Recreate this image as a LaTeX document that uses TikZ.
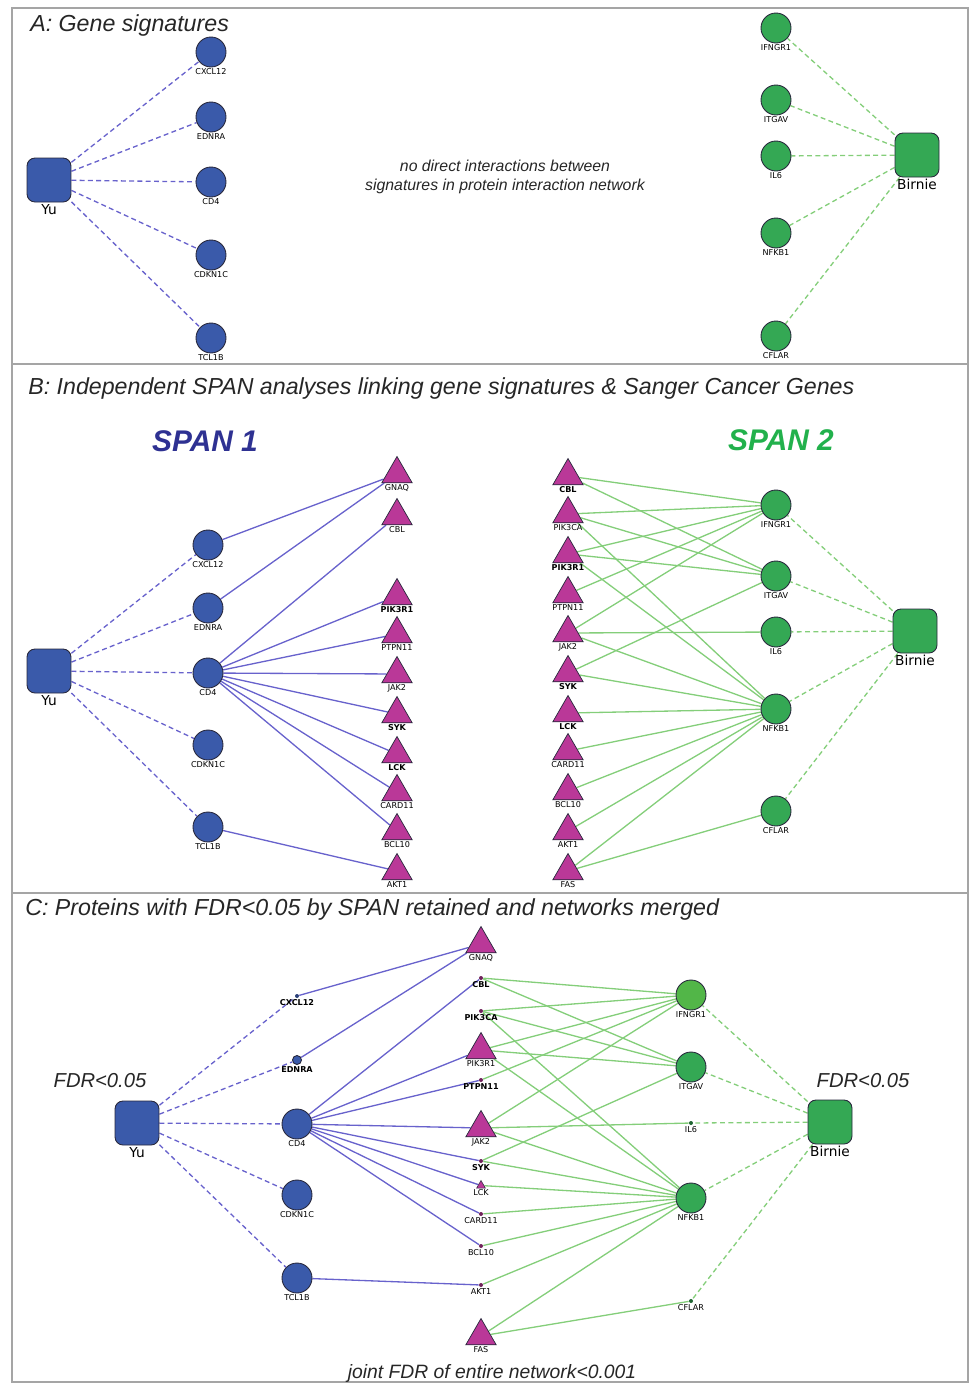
\documentclass[tikz,border=0pt]{standalone}
\usepackage{fontspec}
\setmainfont{Liberation Sans}
\newfontfamily\dejavu{DejaVu Sans}
\usetikzlibrary{shapes.geometric,backgrounds}

\definecolor{nodeblue}{RGB}{58,90,170}
\definecolor{nodegreen}{RGB}{52,168,84}
\definecolor{lightgreen}{RGB}{82,182,72}
\definecolor{cancer}{RGB}{186,56,152}
\definecolor{blueedge}{RGB}{104,98,204}
\definecolor{greenedge}{RGB}{132,206,122}
\definecolor{spanblue}{RGB}{46,49,146}
\definecolor{spangreen}{RGB}{34,177,76}
\definecolor{framegray}{RGB}{165,165,165}
\definecolor{outline}{RGB}{40,40,60}

\tikzset{
  lab/.style={font=\dejavu\fontsize{4.6}{5}\selectfont, inner sep=0.6pt},
  boldlab/.style={font=\dejavu\bfseries\fontsize{4.6}{5}\selectfont, inner sep=0.6pt},
  siglab/.style={font=\dejavu\fontsize{7.8}{8}\selectfont, inner sep=1pt},
  gene/.style={circle, draw=outline, line width=0.5pt, minimum size=0.6cm, inner sep=0pt},
  bluegene/.style={gene, fill=nodeblue},
  greengene/.style={gene, fill=nodegreen},
  signature/.style={rectangle, rounded corners=0.16cm, draw=outline, line width=0.5pt, minimum size=0.88cm, inner sep=0pt},
  sanger/.style={regular polygon, regular polygon sides=3, draw=outline, line width=0.4pt, fill=cancer, minimum size=0.7cm, inner sep=0pt},
  tinydot/.style={circle, fill=outline, minimum size=0.08cm, inner sep=0pt},
  blueline/.style={draw=blueedge, line width=0.75pt},
  bluedash/.style={blueline, dash pattern=on 2.8pt off 1.9pt},
  greenline/.style={draw=greenedge, line width=0.75pt},
  greendash/.style={greenline, dash pattern=on 2.8pt off 1.9pt},
  heading/.style={font=\itshape\fontsize{13.2}{15}\selectfont, anchor=west, inner sep=0pt, text=black!85},
  spanhead/.style={font=\bfseries\itshape\fontsize{17}{18}\selectfont, inner sep=0pt},
  remark/.style={font=\itshape\fontsize{11.5}{13}\selectfont, inner sep=0pt, text=black!85},
}

\begin{document}
\begin{tikzpicture}[x=0.02cm, y=-0.02cm]
\useasboundingbox (0,0) rectangle (970,1384);
% frame and panel rules
\draw[framegray, line width=1.2pt] (12,8) rectangle (968,1382);
\draw[framegray, line width=1.2pt] (12,364) -- (968,364);
\draw[framegray, line width=1.2pt] (12,893) -- (968,893);

%%%%% A: gene signatures
\node[heading] (atitle) at (30,25) {A: Gene signatures};
\node[signature, fill=nodeblue, label={[siglab]below:Yu}] (aYu) at (49,180) {};
\foreach \g/\y in {CXCL12/52, EDNRA/117, CD4/182, CDKN1C/255, TCL1B/338}
  \node[bluegene, label={[lab]below:\g}] (a\g) at (211,\y) {};
\node[signature, fill=nodegreen, label={[siglab]below:Birnie}] (aBirnie) at (917,155) {};
\foreach \g/\y in {IFNGR1/28, ITGAV/100, IL6/156, NFKB1/233, CFLAR/336}
  \node[greengene, label={[lab]below:\g}] (a\g) at (776,\y) {};
\node[font=\itshape\fontsize{9}{10.8}\selectfont, align=center, text=black!85] (anote) at (505,177)
  {no direct interactions between\\signatures in protein interaction network};

\begin{scope}[on background layer]
\foreach \g in {CXCL12,EDNRA,CD4,CDKN1C,TCL1B}
  \draw[bluedash] (aYu) -- (a\g);
\foreach \g in {IFNGR1,ITGAV,IL6,NFKB1,CFLAR}
  \draw[greendash] (aBirnie) -- (a\g);
\end{scope}

%%%%% B: two SPAN analyses
\node[heading] (btitle) at (28,388) {B: Independent SPAN analyses linking gene signatures \& Sanger Cancer Genes};
\node[spanhead, text=spanblue] (span1) at (205,441) {SPAN 1};
\node[spanhead, text=spangreen] (span2) at (781,440) {SPAN 2};

\node[signature, fill=nodeblue, label={[siglab]below:Yu}] (bYu) at (49,671) {};
\foreach \g/\y in {CXCL12/545, EDNRA/608, CD4/673, CDKN1C/745, TCL1B/827}
  \node[bluegene, label={[lab]below:\g}] (b\g) at (208,\y) {};
% SPAN 1 cancer genes
\foreach \g/\y/\s in {GNAQ/474/lab, CBL/516/lab, PIK3R1/596/boldlab, PTPN11/634/lab, JAK2/674/lab,
                      SYK/714/boldlab, LCK/754/boldlab, CARD11/792/lab, BCL10/831/lab, AKT1/871/lab}
  \node[sanger, label={[\s]below:\g}] (p\g) at (397,\y) {};
% SPAN 2 cancer genes
\foreach \g/\y/\s in {CBL/476/boldlab, PIK3CA/514/lab, PIK3R1/554/boldlab, PTPN11/594/lab, JAK2/633/lab,
                      SYK/673/boldlab, LCK/713/boldlab, CARD11/751/lab, BCL10/791/lab, AKT1/831/lab, FAS/871/lab}
  \node[sanger, label={[\s]below:\g}] (q\g) at (568,\y) {};

\node[signature, fill=nodegreen, label={[siglab]below:Birnie}] (bBirnie) at (915,631) {};
\foreach \g/\y in {IFNGR1/505, ITGAV/576, IL6/632, NFKB1/709, CFLAR/811}
  \node[greengene, label={[lab]below:\g}] (b\g) at (776,\y) {};

\begin{scope}[on background layer]
\foreach \g in {CXCL12,EDNRA,CD4,CDKN1C,TCL1B}
  \draw[bluedash] (bYu) -- (b\g);
\foreach \g in {IFNGR1,ITGAV,IL6,NFKB1,CFLAR}
  \draw[greendash] (bBirnie) -- (b\g);
\draw[blueline] (bCXCL12) -- (pGNAQ);
\draw[blueline] (bEDNRA) -- (pGNAQ);
\foreach \g in {CBL,PIK3R1,PTPN11,JAK2,SYK,LCK,CARD11,BCL10}
  \draw[blueline] (bCD4) -- (p\g);
\draw[blueline] (bTCL1B) -- (pAKT1);
\foreach \g/\h in {CBL/IFNGR1, CBL/ITGAV, PIK3CA/IFNGR1, PIK3CA/ITGAV, PIK3CA/NFKB1,
                   PIK3R1/IFNGR1, PIK3R1/ITGAV, PIK3R1/NFKB1, PTPN11/IFNGR1,
                   JAK2/IFNGR1, JAK2/IL6, JAK2/NFKB1, SYK/ITGAV, SYK/NFKB1,
                   LCK/NFKB1, CARD11/NFKB1, BCL10/NFKB1, AKT1/NFKB1, FAS/NFKB1, FAS/CFLAR}
  \draw[greenline] (q\g) -- (b\h);
\end{scope}

%%%%% C: merged network
\node[heading] (ctitle) at (25,909) {C: Proteins with FDR<0.05 by SPAN retained and networks merged};
\node[remark] (yufdr) at (100,1081) {FDR<0.05};
\node[remark] (birniefdr) at (863,1081) {FDR<0.05};
\node[remark, font=\itshape\fontsize{11}{13}\selectfont] (joint) at (492,1373) {joint FDR of entire network<0.001};

\node[signature, fill=nodeblue, label={[siglab]below:Yu}] (cYu) at (137,1123) {};
\node[tinydot, fill=nodeblue!70!black, label={[boldlab]below:CXCL12}] (cCXCL12) at (297,996) {};
\node[gene, fill=nodeblue, minimum size=0.18cm, label={[boldlab]below:EDNRA}] (cEDNRA) at (297,1060) {};
\foreach \g/\y in {CD4/1124, CDKN1C/1195, TCL1B/1278}
  \node[bluegene, label={[lab]below:\g}] (c\g) at (297,\y) {};

% cancer genes kept
\foreach \g/\y in {GNAQ/944, PIK3R1/1050, JAK2/1128, FAS/1336}
  \node[sanger, label={[lab]below:\g}] (c\g) at (481,\y) {};
\node[sanger, minimum size=0.2cm, line width=0.3pt, label={[lab]below:LCK}] (cLCK) at (481,1185.5) {};
\foreach \g/\y/\s in {CBL/978/boldlab, PIK3CA/1011/boldlab, PTPN11/1080/boldlab, SYK/1161/boldlab,
                      CARD11/1214/lab, BCL10/1246/lab, AKT1/1285/lab}
  \node[tinydot, fill=cancer!60!black, label={[\s]below:\g}] (c\g) at (481,\y) {};

\node[signature, fill=nodegreen, label={[siglab]below:Birnie}] (cBirnie) at (830,1122) {};
\node[gene, fill=lightgreen, label={[lab]below:IFNGR1}] (cIFNGR1) at (691,995) {};
\foreach \g/\y in {ITGAV/1067, NFKB1/1198}
  \node[greengene, label={[lab]below:\g}] (c\g) at (691,\y) {};
\foreach \g/\y in {IL6/1123, CFLAR/1301}
  \node[tinydot, fill=nodegreen!60!black, label={[lab]below:\g}] (c\g) at (691,\y) {};

\begin{scope}[on background layer]
\foreach \g in {CXCL12,EDNRA,CD4,CDKN1C,TCL1B}
  \draw[bluedash] (cYu) -- (c\g);
\foreach \g in {IFNGR1,ITGAV,IL6,NFKB1,CFLAR}
  \draw[greendash] (cBirnie) -- (c\g);
\draw[blueline] (cCXCL12) -- (cGNAQ);
\draw[blueline] (cEDNRA) -- (cGNAQ);
\foreach \g in {CBL,PIK3R1,PTPN11,JAK2,SYK,LCK,CARD11,BCL10}
  \draw[blueline] (cCD4) -- (c\g);
\draw[blueline] (cTCL1B) -- (cAKT1);
\foreach \g/\h in {CBL/IFNGR1, CBL/ITGAV, PIK3CA/IFNGR1, PIK3CA/ITGAV, PIK3CA/NFKB1,
                   PIK3R1/IFNGR1, PIK3R1/ITGAV, PIK3R1/NFKB1, PTPN11/IFNGR1,
                   JAK2/IFNGR1, JAK2/IL6, JAK2/NFKB1, SYK/ITGAV, SYK/NFKB1,
                   LCK/NFKB1, CARD11/NFKB1, BCL10/NFKB1, AKT1/NFKB1, FAS/NFKB1, FAS/CFLAR}
  \draw[greenline] (c\g) -- (c\h);
\end{scope}

\end{tikzpicture}
\end{document}
